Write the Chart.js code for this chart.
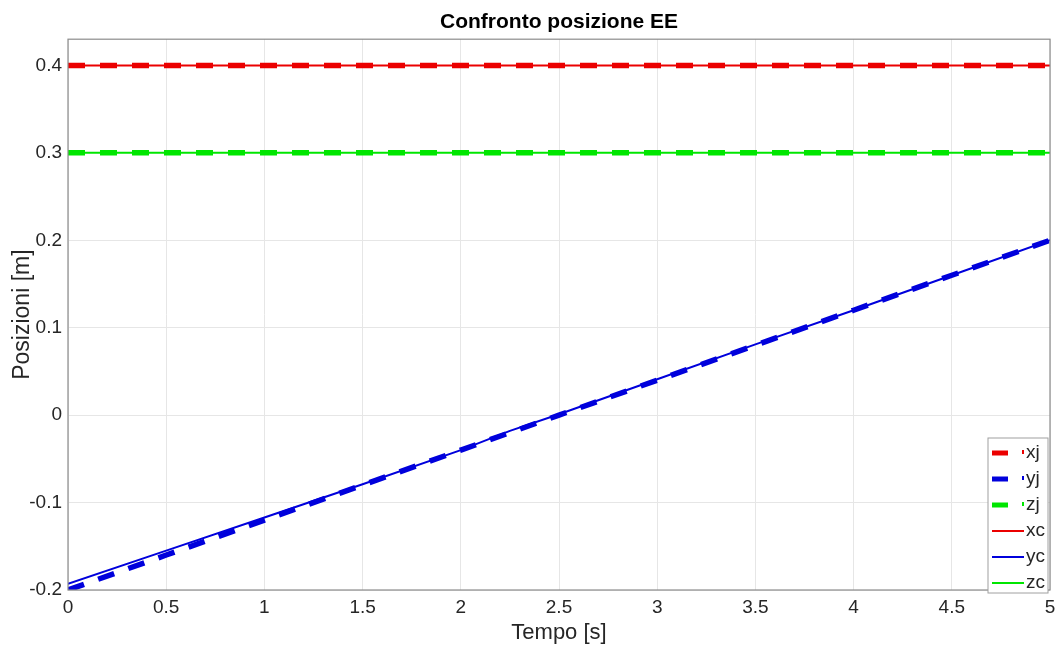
<!DOCTYPE html>
<html>
<head>
<meta charset="utf-8">
<script src="https://cdn.jsdelivr.net/npm/chart.js@4"></script>
<style>
  body { margin: 0; background: #fff; }
  #wrap { width: 1058px; height: 646px; }
</style>
</head>
<body>
<div id="wrap"><canvas id="posChart" width="1058" height="646"></canvas></div>
<script>
// time axis [s]
const tempo = [0, 0.5, 1, 1.5, 2, 2.25, 2.5, 3, 3.5, 4, 4.5, 5];

// joint-space (dashed) and cartesian (solid) end-effector positions [m]
const xj = [0.4, 0.4, 0.4, 0.4, 0.4, 0.4, 0.4, 0.4, 0.4, 0.4, 0.4, 0.4];
const yj = [-0.2, -0.16, -0.12, -0.08, -0.04, -0.02, 0.0, 0.04, 0.08, 0.12, 0.16, 0.2];
const zj = [0.3, 0.3, 0.3, 0.3, 0.3, 0.3, 0.3, 0.3, 0.3, 0.3, 0.3, 0.3];
const xc = [0.4, 0.4, 0.4, 0.4, 0.4, 0.4, 0.4, 0.4, 0.4, 0.4, 0.4, 0.4];
const yc = [-0.193, -0.155, -0.117, -0.079, -0.04, -0.018, 0.001, 0.041, 0.081, 0.12, 0.16, 0.2];
const zc = [0.3, 0.3, 0.3, 0.3, 0.3, 0.3, 0.3, 0.3, 0.3, 0.3, 0.3, 0.3];

const xTicks = [0, 0.5, 1, 1.5, 2, 2.5, 3, 3.5, 4, 4.5, 5];
const yTicks = [-0.2, -0.1, 0, 0.1, 0.2, 0.3, 0.4];

const FONT = '"Liberation Sans", Arial, Helvetica, sans-serif';
const red = 'rgb(235, 0, 0)';
const blue = 'rgb(0, 0, 220)';
const green = 'rgb(0, 230, 0)';

function pts(ys) {
  return tempo.map((t, i) => ({ x: t, y: ys[i] }));
}

function dashed(label, ys, color) {
  return {
    label: label, data: pts(ys), borderColor: color, backgroundColor: color,
    borderWidth: 5.5, borderDash: [17, 15], pointRadius: 0, tension: 0, order: 2
  };
}
function solid(label, ys, color) {
  return {
    label: label, data: pts(ys), borderColor: color, backgroundColor: color,
    borderWidth: 2, pointRadius: 0, tension: 0, order: 1
  };
}

// box around the axes + MATLAB-style legend in the lower right corner
const boxAndLegend = {
  id: 'boxAndLegend',
  afterDraw(chart) {
    const ctx = chart.ctx;
    const a = chart.chartArea;
    ctx.save();
    ctx.strokeStyle = '#8c8c8c';
    ctx.lineWidth = 1.2;
    ctx.strokeRect(a.left, a.top, a.right - a.left, a.bottom - a.top);

    const x0 = 988, y0 = 438, w = 60, h = 155;
    ctx.fillStyle = '#fff';
    ctx.fillRect(x0, y0, w, h);
    ctx.strokeStyle = '#a0a0a0';
    ctx.lineWidth = 1;
    ctx.strokeRect(x0, y0, w, h);

    ctx.font = '19px ' + FONT;
    ctx.textBaseline = 'middle';
    chart.data.datasets.forEach((ds, i) => {
      const y = y0 + 15 + i * 26;
      ctx.strokeStyle = ds.borderColor;
      if (ds.borderDash) {
        ctx.lineWidth = 5;
        ctx.beginPath(); ctx.moveTo(992, y); ctx.lineTo(1008, y); ctx.stroke();
        ctx.lineWidth = 2;
        ctx.beginPath(); ctx.moveTo(1023, y - 3); ctx.lineTo(1023, y + 1); ctx.stroke();
      } else {
        ctx.lineWidth = 2;
        ctx.beginPath(); ctx.moveTo(992, y); ctx.lineTo(1024, y); ctx.stroke();
      }
      ctx.fillStyle = '#262626';
      ctx.fillText(ds.label, 1026, y);
    });
    ctx.restore();
  }
};

new Chart(document.getElementById('posChart'), {
  type: 'line',
  data: {
    datasets: [
      dashed('xj', xj, red),
      dashed('yj', yj, blue),
      dashed('zj', zj, green),
      solid('xc', xc, red),
      solid('yc', yc, blue),
      solid('zc', zc, green)
    ]
  },
  options: {
    responsive: false,
    animation: false,
    layout: { padding: 0 },
    plugins: {
      legend: { display: false },
      tooltip: { enabled: false },
      title: {
        display: true,
        fullSize: false,
        text: 'Confronto posizione EE',
        color: '#000',
        font: { family: FONT, size: 21, weight: 'bold' },
        padding: { top: 10, bottom: 4 }
      }
    },
    scales: {
      x: {
        type: 'linear',
        min: 0, max: 5,
        afterBuildTicks: s => { s.ticks = xTicks.map(v => ({ value: v })); },
        afterFit: s => { s.height = 56; s.paddingLeft = 0; s.paddingRight = 8; },
        ticks: {
          color: '#262626', font: { family: FONT, size: 19 }, padding: 6,
          maxRotation: 0, autoSkip: false,
          callback: v => String(v)
        },
        grid: { color: '#e6e6e6', lineWidth: 1, tickLength: 0 },
        border: { display: false },
        title: {
          display: true, text: 'Tempo [s]', color: '#262626',
          font: { family: FONT, size: 22 }, padding: { top: 0, bottom: 0 }
        }
      },
      y: {
        min: -0.2, max: 0.43,
        afterBuildTicks: s => { s.ticks = yTicks.map(v => ({ value: v })); },
        afterFit: s => { s.width = 68; },
        ticks: {
          color: '#262626', font: { family: FONT, size: 19 }, padding: 6,
          callback: v => String(Math.round(v * 10) / 10)
        },
        grid: { color: '#e6e6e6', lineWidth: 1, tickLength: 0 },
        border: { display: false },
        title: {
          display: true, text: 'Posizioni [m]', color: '#262626',
          font: { family: FONT, size: 23 }, padding: { top: 9, bottom: 0 }
        }
      }
    }
  },
  plugins: [boxAndLegend]
});
</script>
</body>
</html>
